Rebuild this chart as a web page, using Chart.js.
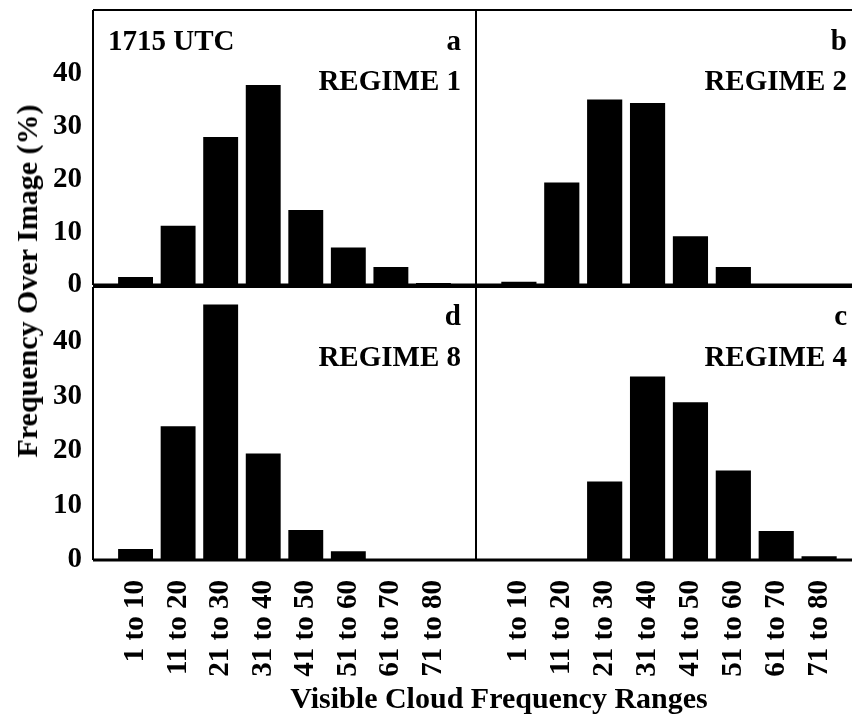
<!DOCTYPE html>
<html>
<head>
<meta charset="utf-8">
<script src="https://cdn.jsdelivr.net/npm/chart.js@4.4.1/dist/chart.umd.min.js"></script>
<style>
  html, body { margin: 0; padding: 0; background: #fff; }
  #wrap { position: relative; width: 852px; height: 715px; overflow: hidden; background: #fff; }
  #wrap canvas { position: absolute; }
  .title { position: absolute; font-family: 'Liberation Serif', 'Times New Roman', serif; font-weight: bold; font-size: 30px; line-height: 30px; color: #000; white-space: nowrap; }
  #ytitle { left: 27px; top: 281px; transform: translate(-50%, -50%) rotate(-90deg); }
  #xtitle { left: 499px; top: 683px; transform: translateX(-50%); }
</style>
</head>
<body>
<div id="wrap">
  <canvas id="chartA" width="476" height="305" style="left:0;top:0"></canvas>
  <canvas id="chartB" width="386" height="305" style="left:476px;top:0"></canvas>
  <canvas id="chartD" width="476" height="429" style="left:0;top:286px"></canvas>
  <canvas id="chartC" width="386" height="429" style="left:476px;top:286px"></canvas>
  <div class="title" id="ytitle">Frequency Over Image (%)</div>
  <div class="title" id="xtitle">Visible Cloud Frequency Ranges</div>
</div>
<script>
var categories = ['1 to 10', '11 to 20', '21 to 30', '31 to 40', '41 to 50', '51 to 60', '61 to 70', '71 to 80'];
var regime1 = [1.5, 11.2, 28.0, 37.8, 14.2, 7.1, 3.4, 0.4];
var regime2 = [0.6, 19.4, 35.1, 34.4, 9.2, 3.4, 0.2, 0];
var regime8 = [2.0, 24.5, 46.8, 19.5, 5.5, 1.6, 0, 0];
var regime4 = [0, 0, 14.4, 33.6, 28.9, 16.4, 5.3, 0.7];
var yTicks = [0, 10, 20, 30, 40];

var FONT = "'Liberation Serif', 'Times New Roman', serif";

// draws the box round each panel and its letter / regime text
var panelPlugin = {
    id: 'panel',
    afterDatasetsDraw: function(chart, args, opts) {
        var ctx = chart.ctx;
        var a = chart.chartArea;
        ctx.save();
        ctx.strokeStyle = '#000';
        ctx.lineWidth = 2;
        ctx.beginPath();
        ctx.moveTo(a.left, a.top); ctx.lineTo(a.right, a.top);
        ctx.moveTo(a.left, a.top); ctx.lineTo(a.left, a.bottom);
        ctx.moveTo(a.right, a.top); ctx.lineTo(a.right, a.bottom);
        ctx.stroke();
        ctx.lineWidth = 3;
        ctx.beginPath();
        ctx.moveTo(a.left, a.bottom); ctx.lineTo(a.right, a.bottom);
        ctx.stroke();

        ctx.fillStyle = '#000';
        ctx.font = 'bold 29px ' + FONT;
        ctx.textBaseline = 'alphabetic';
        ctx.textAlign = 'right';
        ctx.fillText(opts.letter, a.right - 15, a.top + opts.line1);
        ctx.fillText(opts.regime, a.right - 15, a.top + opts.line2);
        if (opts.time) {
            ctx.textAlign = 'left';
            ctx.fillText(opts.time, a.left + 15, a.top + opts.line1);
        }
        ctx.restore();
    }
};

function makeChart(id, values, cfg) {
    var points = [];
    for (var i = 0; i < values.length; i++) {
        points.push({ x: i + 1, y: values[i] });
    }
    return new Chart(document.getElementById(id), {
        type: 'bar',
        data: {
            datasets: [{
                data: points,
                backgroundColor: '#000',
                borderWidth: 0,
                barPercentage: 0.82,
                categoryPercentage: 1.0
            }]
        },
        plugins: [panelPlugin],
        options: {
            responsive: false,
            animation: false,
            devicePixelRatio: 1,
            layout: { padding: cfg.padding },
            plugins: {
                legend: { display: false },
                tooltip: { enabled: false },
                panel: cfg.panel
            },
            scales: {
                x: {
                    type: 'linear',
                    min: 0,
                    max: categories.length + 1,
                    offset: false,
                    display: cfg.showX,
                    grid: { display: false, drawTicks: false },
                    border: { display: false },
                    afterBuildTicks: function(scale) {
                        scale.ticks = categories.map(function(c, i) { return { value: i + 1 }; });
                    },
                    afterFit: function(scale) {
                        if (cfg.showX) scale.height = 155;
                        scale.paddingLeft = 0;
                        scale.paddingRight = 0;
                    },
                    ticks: {
                        autoSkip: false,
                        minRotation: 90,
                        maxRotation: 90,
                        padding: 20,
                        color: '#000',
                        font: { family: FONT, size: 29, weight: 'bold' },
                        callback: function(v) { return categories[v - 1] || ''; }
                    }
                },
                y: {
                    min: 0,
                    max: cfg.yMax,
                    display: cfg.showY,
                    grid: { display: false, drawTicks: false },
                    border: { display: false },
                    afterBuildTicks: function(scale) {
                        scale.ticks = yTicks.map(function(v) { return { value: v }; });
                    },
                    afterFit: function(scale) {
                        if (cfg.showY) scale.width = 93;
                        scale.paddingTop = 0;
                        scale.paddingBottom = 0;
                    },
                    ticks: {
                        autoSkip: false,
                        padding: 11,
                        color: '#000',
                        font: { family: FONT, size: 29, weight: 'bold' }
                    }
                }
            }
        }
    });
}

makeChart('chartA', regime1, {
    padding: { top: 10, bottom: 20, left: 0, right: 0 },
    showX: false, showY: true, yMax: 52,
    panel: { letter: 'a', regime: 'REGIME 1', time: '1715 UTC', line1: 40, line2: 80 }
});
makeChart('chartB', regime2, {
    padding: { top: 10, bottom: 20, left: 0, right: 0 },
    showX: false, showY: false, yMax: 52,
    panel: { letter: 'b', regime: 'REGIME 2', line1: 40, line2: 80 }
});
makeChart('chartD', regime8, {
    padding: { top: 1, bottom: 0, left: 0, right: 0 },
    showX: true, showY: true, yMax: 50,
    panel: { letter: 'd', regime: 'REGIME 8', line1: 38, line2: 79 }
});
makeChart('chartC', regime4, {
    padding: { top: 1, bottom: 0, left: 0, right: 0 },
    showX: true, showY: false, yMax: 50,
    panel: { letter: 'c', regime: 'REGIME 4', line1: 38, line2: 79 }
});
</script>
</body>
</html>
